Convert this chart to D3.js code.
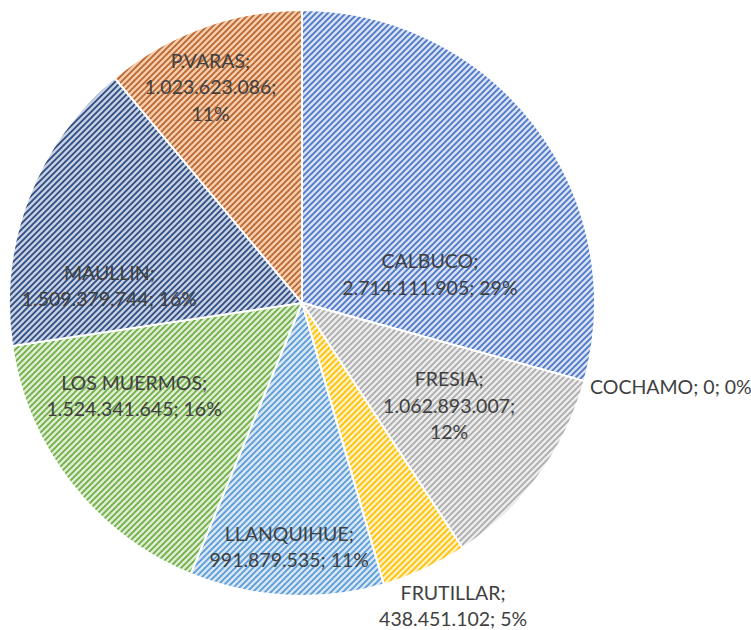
<!DOCTYPE html>
<html lang="es">
<head>
    <meta charset="UTF-8">
    <script src="https://d3js.org/d3.v7.min.js"></script>
    <style>
        body {
            margin: 0;
            background: #ffffff;
        }
        svg {
            display: block;
            font-family: Lato, "Liberation Sans", sans-serif;
        }
    </style>
</head>
<body>
    <svg width="751" height="630"></svg>

    <script>
        // data
        const categories = ["CALBUCO", "COCHAMO", "FRESIA", "FRUTILLAR", "LLANQUIHUE", "LOS MUERMOS", "MAULLIN", "P.VARAS"];
        const values = [2714111905, 0, 1062893007, 438451102, 991879535, 1524341645, 1509379744, 1023623086];
        const percents = ["29%", "0%", "12%", "5%", "11%", "16%", "16%", "11%"];

        // stripe colour / background tint per slice
        const stripeColors = ["#4a75c6", "#ed7d31", "#ababab", "#ffc000", "#5b9bd5", "#70ad47", "#2a4a80", "#b8662f"];
        const bgColors = ["#d7e0f3", "#fbe0cc", "#ececec", "#fff0c2", "#d6e6f5", "#dcedd0", "#c6cfe1", "#f6cbab"];

        // how many lines each label wraps to, and where it sits (angle in degrees, fraction of radius)
        const labelLines = [2, 1, 3, 2, 2, 2, 2, 3];
        const labelPos = [[77.6, 0.447], null, [125, 0.613], [153.5, 1.156], [183, 0.834], [241, 0.655], [275, 0.66], [337, 0.80]];

        const svg = d3.select("svg");
        const cx = 302, cy = 303, radius = 293;
        const lineH = 26.5;

        const fmt = d3.formatLocale({ decimal: ",", thousands: ".", grouping: [3], currency: ["$", ""] }).format(",d");

        const defs = svg.append("defs");
        categories.forEach((c, i) => {
            const p = defs.append("pattern")
                .attr("id", "pat" + i)
                .attr("patternUnits", "userSpaceOnUse")
                .attr("width", 6)
                .attr("height", 6);
            p.append("rect").attr("width", 6).attr("height", 6).attr("fill", bgColors[i]);
            p.append("path")
                .attr("d", "M0,6 L6,0 M-1,1 L1,-1 M5,7 L7,5")
                .attr("stroke", stripeColors[i])
                .attr("stroke-width", 1.7);
        });

        const pie = d3.pie().sort(null).value(d => d)(values);
        const arc = d3.arc().innerRadius(0).outerRadius(radius);

        const g = svg.append("g").attr("transform", `translate(${cx},${cy})`);

        g.selectAll("path.slice")
            .data(pie)
            .enter()
            .append("path")
            .attr("class", "slice")
            .attr("d", arc)
            .attr("fill", (d, i) => `url(#pat${i})`)
            .attr("stroke", "#ffffff")
            .attr("stroke-width", 2);

        function labelText(i) {
            const name = categories[i] + ";";
            const val = fmt(values[i]) + ";";
            if (labelLines[i] === 1) return [name + " " + val + " " + percents[i]];
            if (labelLines[i] === 2) return [name, val + " " + percents[i]];
            return [name, val, percents[i]];
        }

        pie.forEach((d, i) => {
            const lines = labelText(i);
            let x, y, anchor = "middle";
            if (labelPos[i]) {
                const a = labelPos[i][0] * Math.PI / 180;
                const r = labelPos[i][1] * radius;
                x = r * Math.sin(a);
                y = -r * Math.cos(a);
            } else {
                // zero slice: label sits just outside the rim
                const r = radius * 1.02;
                x = r * Math.sin(d.startAngle);
                y = -r * Math.cos(d.startAngle) + 4;
                anchor = "start";
            }
            const t = g.append("text")
                .attr("text-anchor", anchor)
                .attr("fill", "#404040")
                .style("font-size", "19.5px");
            lines.forEach((l, k) => {
                t.append("tspan")
                    .attr("x", x)
                    .attr("y", y + (k - (lines.length - 1) / 2) * lineH)
                    .attr("dy", "0.35em")
                    .text(l);
            });
        });
    </script>
</body>
</html>
